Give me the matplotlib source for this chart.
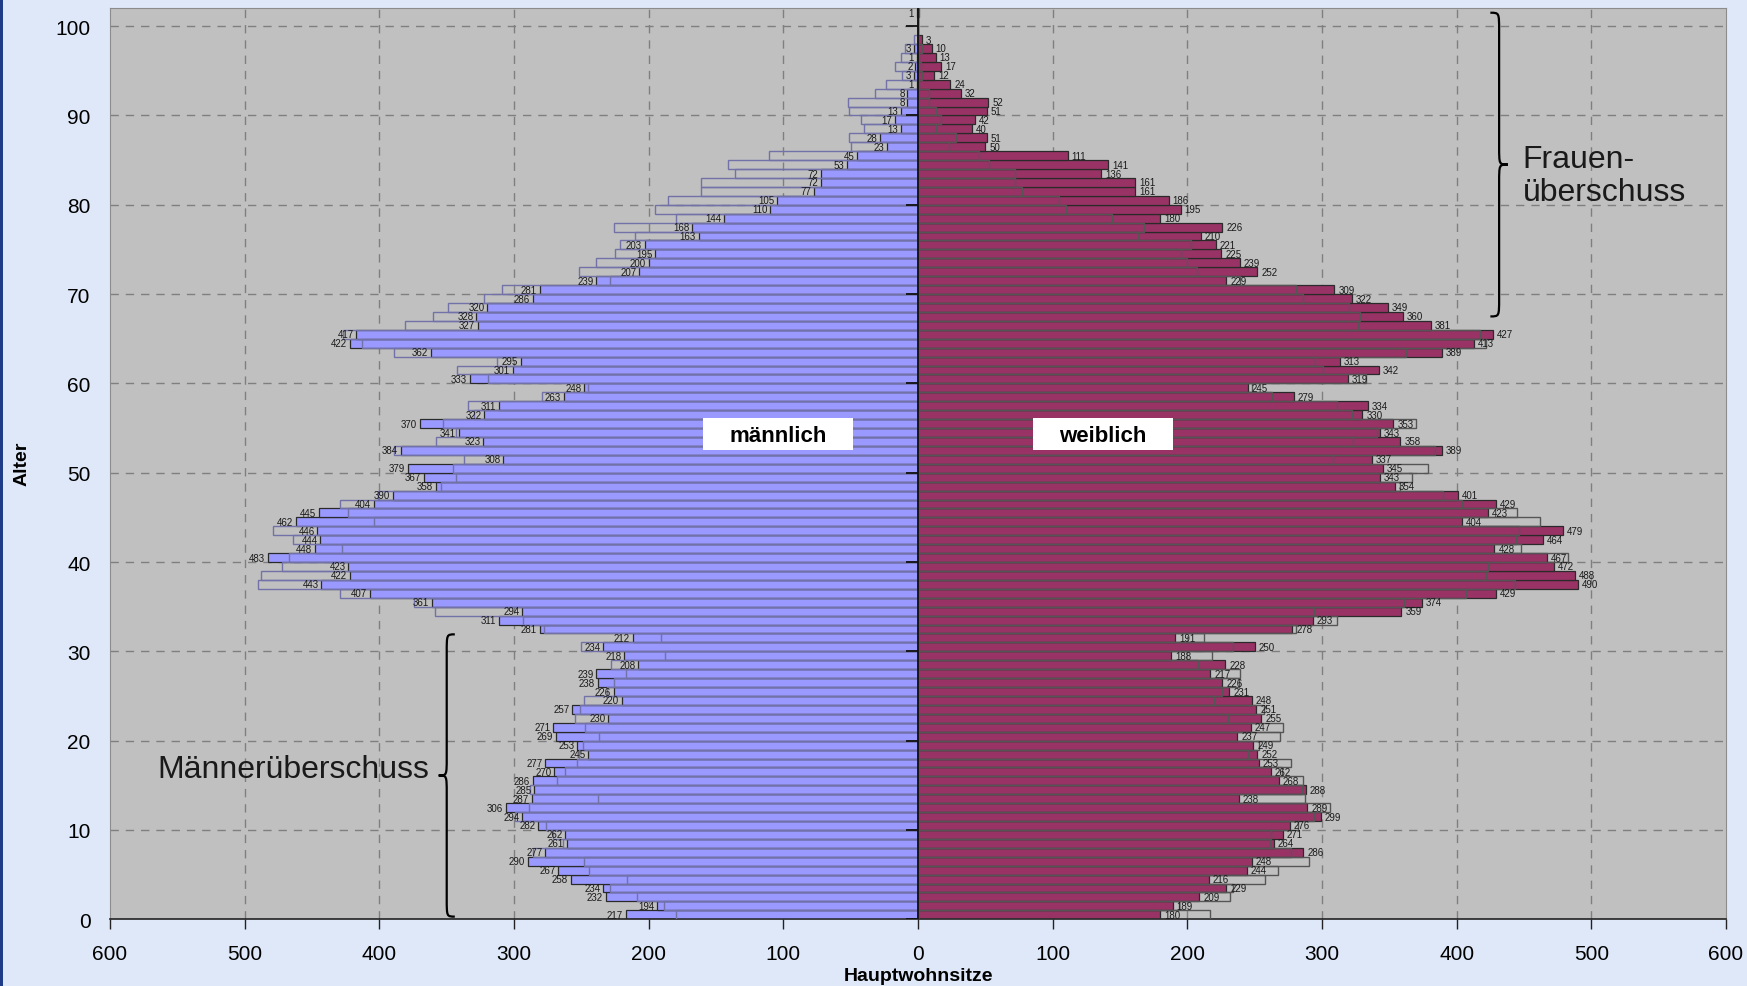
import numpy as np
import matplotlib
matplotlib.use('Agg')
import matplotlib.pyplot as plt
from matplotlib.path import Path
from matplotlib.patches import PathPatch, Rectangle

plt.rcParams['font.family'] = ['Liberation Sans', 'DejaVu Sans']

# Hauptwohnsitze nach Alter (0 .. 101)
ages = np.arange(102)
maennlich = [217, 194, 232, 234, 258, 267, 290, 277, 261, 262,
             282, 294, 306, 287, 285, 286, 270, 277, 245, 253,
             269, 271, 230, 257, 220, 226, 238, 239, 208, 218,
             234, 212, 281, 311, 294, 361, 407, 443, 422, 423,
             483, 448, 444, 446, 462, 445, 404, 390, 358, 367,
             379, 308, 384, 323, 341, 370, 322, 311, 263, 248,
             333, 301, 295, 362, 422, 417, 327, 328, 320, 286,
             281, 239, 207, 200, 195, 203, 163, 168, 144, 110,
             105, 77, 72, 72, 53, 45, 23, 28, 13, 17,
             13, 8, 8, 1, 3, 2, 1, 3, 0, 0,
             0, 1]
weiblich = [180, 189, 209, 229, 216, 244, 248, 286, 264, 271,
            276, 299, 289, 238, 288, 268, 262, 253, 252, 249,
            237, 247, 255, 251, 248, 231, 226, 217, 228, 188,
            250, 191, 278, 293, 359, 374, 429, 490, 488, 472,
            467, 428, 464, 479, 404, 423, 429, 401, 354, 343,
            345, 337, 389, 358, 343, 353, 330, 334, 279, 245,
            319, 342, 313, 389, 413, 427, 381, 360, 349, 322,
            309, 229, 252, 239, 225, 221, 210, 226, 180, 195,
            186, 161, 161, 136, 141, 111, 50, 51, 40, 42,
            51, 52, 32, 24, 12, 17, 13, 10, 3, 0,
            0, 0]
xticks = [-600, -500, -400, -300, -200, -100, 0, 100, 200, 300, 400, 500, 600]

m = np.array(maennlich)
w = np.array(weiblich)
y = ages + 0.5

fig = plt.figure(figsize=(17.47, 9.87), dpi=100, facecolor='#DFE8F8')
ax = fig.add_axes([0.063, 0.0676, 0.925, 0.923])
ax.set_facecolor('#C0C0C0')

# grid
for gx in xticks[1:-1]:
    if gx != 0:
        ax.axvline(gx, color='#7F7F7F', lw=1, ls=(0, (6, 5)), zorder=0)
for gy in range(10, 101, 10):
    ax.axhline(gy, color='#7F7F7F', lw=1, ls=(0, (6, 5)), zorder=0)

# bars
ax.barh(y, -m, height=1.0, color='#9999FF', edgecolor='#2A2A2A', lw=0.9, zorder=2)
ax.barh(y, w, height=1.0, color='#993366', edgecolor='#2A2A2A', lw=0.9, zorder=2)
# comparison outlines (other sex mirrored)
ax.barh(y, -w, height=1.0, fill=False, edgecolor='#7272A8', lw=1.0, zorder=3)
ax.barh(y, m, height=1.0, fill=False, edgecolor='#555555', lw=1.0, zorder=3)

# value labels
for yy, v in zip(y, m):
    if v > 0:
        ax.text(-v - 2, yy, str(v), ha='right', va='center', fontsize=7,
                color='#1A1A1A', zorder=4)
for yy, v in zip(y, w):
    if v > 0:
        ax.text(v + 3, yy, str(v), ha='left', va='center', fontsize=7,
                color='#1A1A1A', zorder=4)

# center axis with ticks
ax.axvline(0, color='#111111', lw=1.3, zorder=5)
ax.hlines(np.arange(0, 101, 10), -9, 0, color='#111111', lw=1.3, zorder=5)

ax.set_xlim(-600, 600)
ax.set_ylim(0, 102)
ax.set_xticks(xticks)
ax.set_xticklabels([str(abs(t)) for t in xticks], fontsize=15)
ax.set_yticks(np.arange(0, 101, 10))
ax.set_yticklabels([str(t) for t in range(0, 101, 10)], fontsize=15)
ax.tick_params(axis='x', direction='out', length=7, width=1, pad=11, color='#222222')
ax.tick_params(axis='y', length=0, pad=14)
for s in ['top', 'right', 'left']:
    ax.spines[s].set_color('#8C8C8C')
ax.spines['bottom'].set_color('#222222')
ax.spines['bottom'].set_linewidth(1.2)

# series labels
ax.add_patch(Rectangle((-160, 52.5), 112, 3.6, facecolor='white', edgecolor='none', zorder=6))
ax.text(-104, 54.2, 'männlich', ha='center', va='center', fontsize=16,
        fontweight='bold', zorder=7)
ax.add_patch(Rectangle((85, 52.5), 104, 3.6, facecolor='white', edgecolor='none', zorder=6))
ax.text(137, 54.2, 'weiblich', ha='center', va='center', fontsize=16,
        fontweight='bold', zorder=7)


def brace(ax, x, y0, y1, width, r=2.0):
    ym = (y0 + y1) / 2
    xh = x + width / 2
    verts = [(x, y0),
             (xh, y0), (xh, y0), (xh, y0 + r),
             (xh, ym - r),
             (xh, ym), (xh, ym), (x + width, ym),
             (xh, ym), (xh, ym), (xh, ym + r),
             (xh, y1 - r),
             (xh, y1), (xh, y1), (x, y1)]
    codes = [Path.MOVETO,
             Path.CURVE4, Path.CURVE4, Path.CURVE4,
             Path.LINETO,
             Path.CURVE4, Path.CURVE4, Path.CURVE4,
             Path.CURVE4, Path.CURVE4, Path.CURVE4,
             Path.LINETO,
             Path.CURVE4, Path.CURVE4, Path.CURVE4]
    ax.add_patch(PathPatch(Path(verts, codes), fill=False, lw=1.6,
                           edgecolor='black', zorder=6, clip_on=False))


brace(ax, 425, 67.5, 101.5, 13)
brace(ax, -344, 0.3, 31.9, -12)
ax.text(449, 83.3, 'Frauen-\nüberschuss', ha='left', va='center', fontsize=23,
        color='#1A1A1A', linespacing=1.12, zorder=7)
ax.text(-363, 16.8, 'Männerüberschuss', ha='right', va='center', fontsize=23,
        color='#1A1A1A', zorder=7)

fig.text(0.526, 0.011, 'Hauptwohnsitze', ha='center', va='center', fontsize=14,
         fontweight='bold')
fig.text(0.0125, 0.53, 'Alter', ha='center', va='center', rotation=90, fontsize=14,
         fontweight='bold')
fig.patches.append(Rectangle((0, 0), 0.0015, 1, transform=fig.transFigure,
                             facecolor='#1F3C88', edgecolor='none'))

plt.savefig('out.png', dpi=100, facecolor=fig.get_facecolor())
